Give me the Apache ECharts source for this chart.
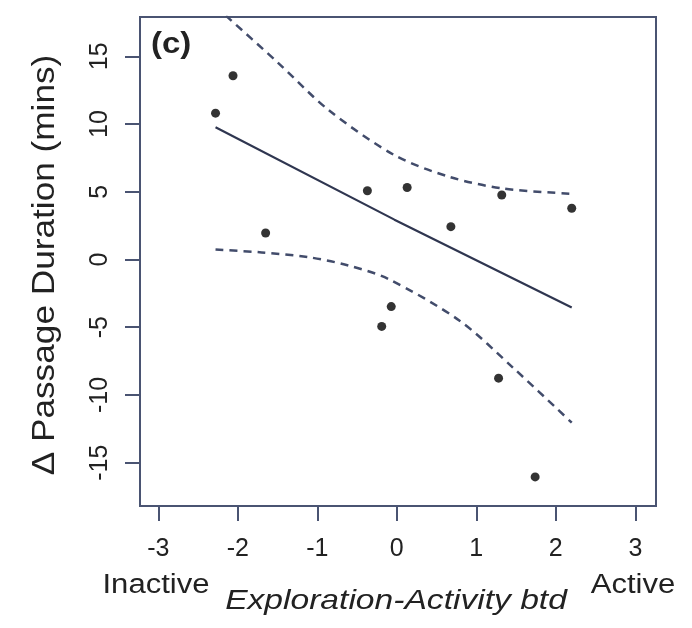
<!DOCTYPE html>
<html>
<head>
<meta charset="utf-8">
<script src="https://cdn.jsdelivr.net/npm/echarts@6/dist/echarts.min.js"></script>
<style>html,body{margin:0;padding:0;background:#fff}#c{width:692px;height:628px}</style>
</head>
<body>
<div id="c"></div>
<script>
// Observed points (Exploration-Activity btd, Δ passage duration)
const pointX = [-2.28, -2.06, -1.65, -0.37, 0.13, 0.68, 1.32, 2.20, -0.07, -0.19, 1.28, 1.74];
const pointY = [10.8, 13.56, 1.95, 5.07, 5.31, 2.42, 4.76, 3.78, -3.48, -4.94, -8.76, -16.05];
// Fitted line
const fitX = [-2.28, -0.03, 2.20];
const fitY = [9.76, 2.94, -3.55];
// Upper confidence band
const upX = [-2.28, -2.14, -1.49, -0.86, -0.03, 0.66, 1.33, 2.20];
const upY = [18.7, 17.95, 14.5, 11.04, 7.7, 6.1, 5.24, 4.85];
// Lower confidence band
const loX = [-2.28, -1.70, -1.11, -0.61, -0.11, 0.79, 1.46, 2.20];
const loY = [0.74, 0.52, 0.17, -0.44, -1.43, -4.52, -7.98, -12.05];
// Tick labels
const xTicks = [-3, -2, -1, 0, 1, 2, 3];
const yTicks = [-15, -10, -5, 0, 5, 10, 15];

const zip = (a, b) => a.map((v, i) => [v, b[i]]);
const axisCol = '#4a5472';
const textCol = '#222';

const chart = echarts.init(document.getElementById('c'));
chart.setOption({
  animation: false,
  grid: { left: 140, right: 36, top: 17, bottom: 122, show: true, borderColor: axisCol, borderWidth: 2, backgroundColor: '#fff' },
  xAxis: {
    type: 'value', min: -3.23, max: 3.26,
    axisLine: { show: false, onZero: false },
    axisTick: { show: true, length: 15, inside: false, customValues: xTicks, lineStyle: { color: axisCol, width: 2 } },
    axisLabel: { customValues: xTicks, margin: 31, fontSize: 25, color: textCol, fontFamily: 'Liberation Sans' },
    splitLine: { show: false }
  },
  yAxis: {
    type: 'value', min: -18.2, max: 17.9,
    axisLine: { show: false, onZero: false },
    axisTick: { show: true, length: 15, customValues: yTicks, lineStyle: { color: axisCol, width: 2 } },
    axisLabel: { customValues: yTicks, rotate: 90, margin: 27, fontSize: 25, color: textCol, fontFamily: 'Liberation Sans' },
    splitLine: { show: false }
  },
  series: [
    { type: 'line', data: zip(upX, upY), smooth: 0.3, symbol: 'none', clip: true,
      lineStyle: { color: '#424c6b', width: 2.5, type: [8, 6] } },
    { type: 'line', data: zip(loX, loY), smooth: 0.3, symbol: 'none', clip: true,
      lineStyle: { color: '#424c6b', width: 2.5, type: [8, 6] } },
    { type: 'line', data: zip(fitX, fitY), symbol: 'none',
      lineStyle: { color: '#2f3650', width: 2.2 } },
    { type: 'scatter', data: zip(pointX, pointY), symbolSize: 9,
      itemStyle: { color: '#000' } }
  ],
  graphic: [
    { type: 'text', x: 151, y: 45, scaleX: 1.1, style: { text: '(c)', font: 'bold 30px "Liberation Sans"', fill: '#222', textVerticalAlign: 'middle' } },
    { type: 'text', x: 156, y: 586, scaleX: 1.15, style: { text: 'Inactive', font: '27px "Liberation Sans"', fill: textCol, textAlign: 'center', textVerticalAlign: 'middle' } },
    { type: 'text', x: 633, y: 586, scaleX: 1.15, style: { text: 'Active', font: '27px "Liberation Sans"', fill: textCol, textAlign: 'center', textVerticalAlign: 'middle' } },
    { type: 'text', x: 396, y: 601, scaleX: 1.2, style: { text: 'Exploration-Activity btd', font: 'italic 28px "Liberation Sans"', fill: textCol, textAlign: 'center', textVerticalAlign: 'middle' } },
    { type: 'text', x: 45, y: 265, rotation: Math.PI / 2, scaleX: 1.1, style: { text: 'Δ Passage Duration (mins)', font: '32px "Liberation Sans"', fill: textCol, textAlign: 'center', textVerticalAlign: 'middle' } }
  ]
});
</script>
</body>
</html>
